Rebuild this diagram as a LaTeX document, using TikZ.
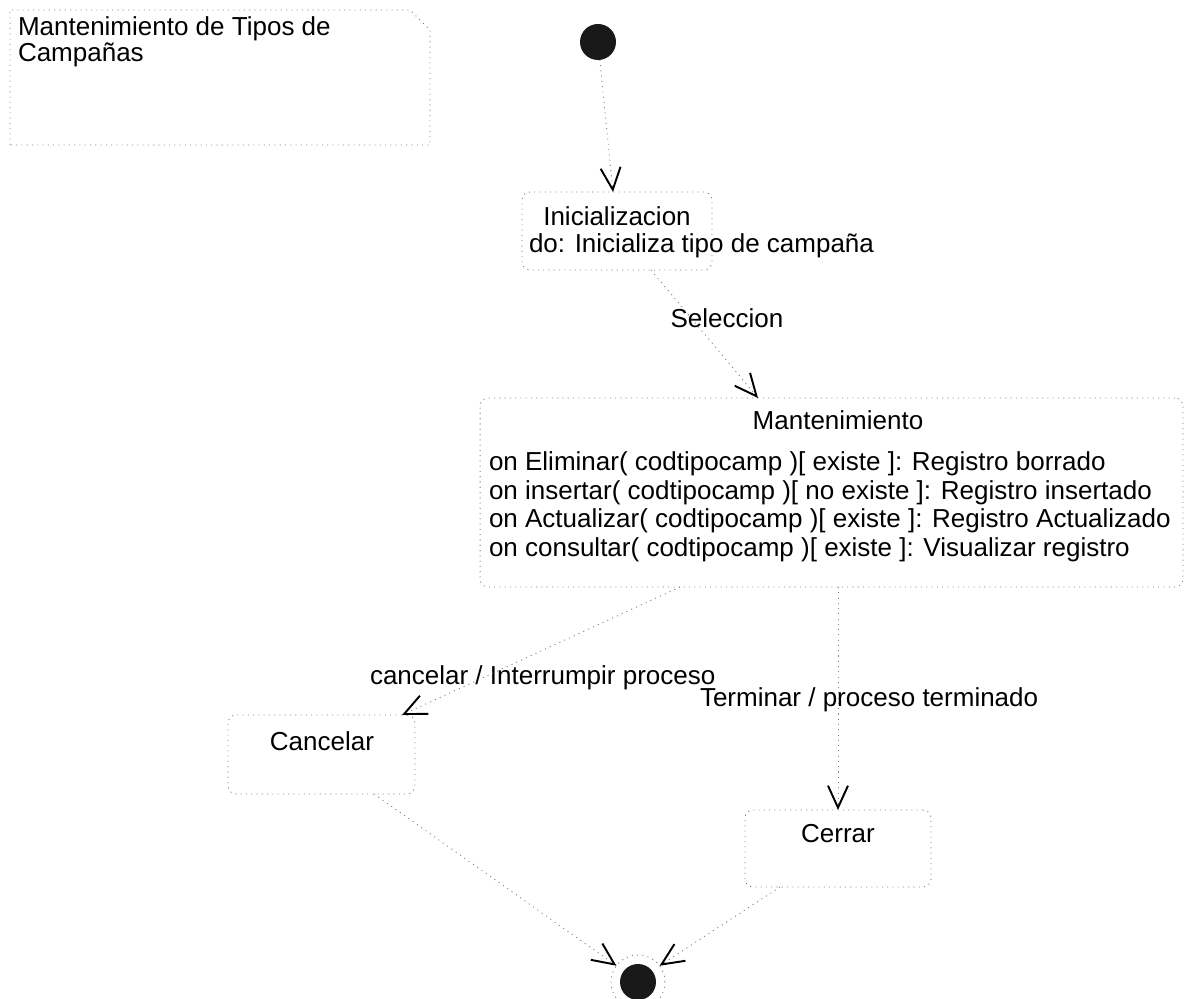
\documentclass[tikz,border=0pt]{standalone}
\usepackage{fontspec}
\setmainfont{Liberation Sans}
\usetikzlibrary{arrows.meta}
\begin{document}
\begin{tikzpicture}[x=0.02cm,y=-0.02cm,
  every node/.style={font=\fontsize{14.8pt}{17pt}\selectfont, inner sep=0pt, outer sep=0pt},
  faint/.style={draw=black!50, line width=0.5pt, dash pattern=on 0.6pt off 2.4pt},
  statebox/.style={faint, rectangle, rounded corners=0.16cm},
  trans/.style={faint, -{Straight Barb[length=0.44cm,width=0.4cm,line width=1.1pt,color=black]}},
  pseudo/.style={circle, fill=black!90, minimum size=0.72cm},
  lbl/.style={anchor=base west},
  ctr/.style={anchor=base},
]
\useasboundingbox (0,0) rectangle (1191,999);

% note with folded corner
\draw[faint] (10,145) -- (10,10) -- (410,10) -- (430,30) -- (430,145) -- cycle;
\node[lbl] (notetitle1) at (18,36) {Mantenimiento de Tipos de};
\node[lbl] (notetitle2) at (18,62) {Campañas};

% states
\node[pseudo] (init) at (598,42) {};

\node[statebox, minimum width=3.8cm, minimum height=1.56cm] (ini) at (617,231) {};
\node[ctr] (ininame) at (617,226) {Inicializacion};
\node[lbl] (inido) at (529,253) {do: Inicializa tipo de campaña};

\node[statebox, minimum width=14.06cm, minimum height=3.78cm] (mant) at (831.5,492.5) {};
\node[ctr] (mantname) at (838,430) {Mantenimiento};
\node[lbl] (mant1) at (489,471) {on Eliminar( codtipocamp )[ existe ]: Registro borrado};
\node[lbl] (mant2) at (489,499.5) {on insertar( codtipocamp )[ no existe ]: Registro insertado};
\node[lbl] (mant3) at (489,528) {on Actualizar( codtipocamp )[ existe ]: Registro Actualizado};
\node[lbl] (mant4) at (489,556.5) {on consultar( codtipocamp )[ existe ]: Visualizar registro};

\node[statebox, minimum width=3.74cm, minimum height=1.58cm] (canc) at (321.5,754.5) {};
\node[ctr] (cancname) at (322,751) {Cancelar};

\node[statebox, minimum width=3.72cm, minimum height=1.54cm] (cerr) at (838,848.5) {};
\node[ctr] (cerrname) at (838,843) {Cerrar};

\node[pseudo] (fin) at (638,982) {};
\node[circle, faint, minimum size=1.08cm] (finring) at (638,982) {};

% transition labels
\node[ctr] (selec) at (727,328) {Seleccion};
\node[lbl] (cancl) at (370,685) {cancelar / Interrumpir proceso};
\node[lbl] (terml) at (700,707) {Terminar / proceso terminado};

% transitions
\draw[trans] (init) -- ([xshift=-0.08cm]ini.north);
\draw[trans] ([xshift=0.68cm]ini.south) -- ([xshift=-1.47cm]mant.north);
\draw[trans] ([xshift=-3.03cm]mant.south) -- ([xshift=-0.26cm]canc.north east);
\draw[trans] (mant.south -| cerr.north) -- (cerr.north);
\draw[trans] ([xshift=1.05cm]canc.south) -- (finring.143);
\draw[trans] ([xshift=-1.16cm]cerr.south) -- (finring.37);
\end{tikzpicture}
\end{document}
